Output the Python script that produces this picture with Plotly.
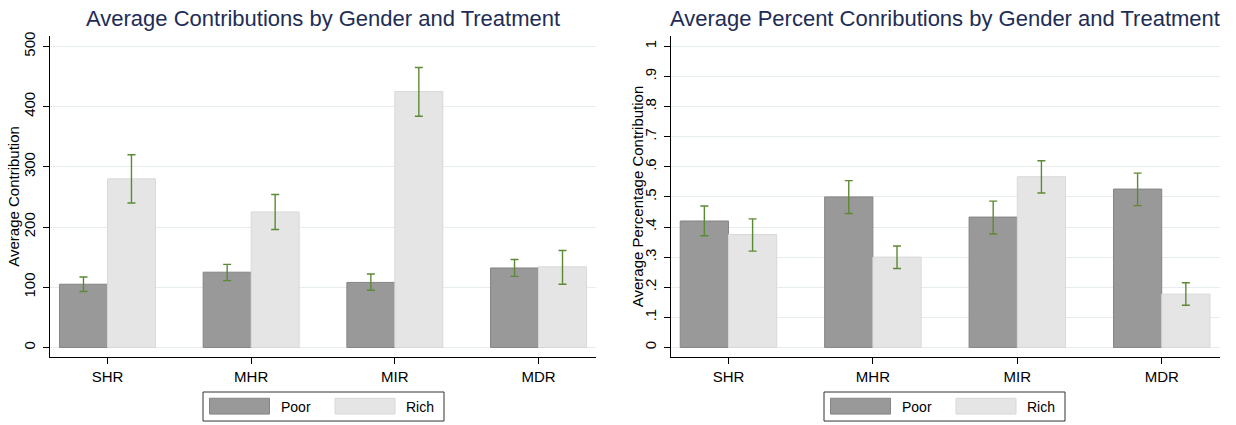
import plotly.graph_objects as go

# ---------------- data ----------------
categories = ["SHR", "MHR", "MIR", "MDR"]
groups = ["Poor", "Rich"]

contrib_poor = [105, 125, 108, 132]
contrib_poor_lo = [93, 111, 95, 118]
contrib_poor_hi = [117, 138, 122, 146]
contrib_rich = [280, 225, 425, 134]
contrib_rich_lo = [240, 196, 384, 105]
contrib_rich_hi = [320, 254, 465, 161]

pct_poor = [0.420, 0.500, 0.433, 0.526]
pct_poor_lo = [0.371, 0.445, 0.377, 0.471]
pct_poor_hi = [0.470, 0.554, 0.486, 0.579]
pct_rich = [0.375, 0.300, 0.567, 0.177]
pct_rich_lo = [0.320, 0.262, 0.513, 0.140]
pct_rich_hi = [0.427, 0.337, 0.620, 0.215]

left_ticks = [0, 100, 200, 300, 400, 500]
left_ticktext = ["0", "100", "200", "300", "400", "500"]
right_ticks = [0, 0.1, 0.2, 0.3, 0.4, 0.5, 0.6, 0.7, 0.8, 0.9, 1.0]
right_ticktext = ["0", ".1", ".2", ".3", ".4", ".5", ".6", ".7", ".8", ".9", "1"]

# ---------------- styles ----------------
W, H = 1236, 425
FONT = "Liberation Sans, Arial, Helvetica, sans-serif"
POOR_FILL, POOR_EDGE = "#999999", "#858585"
RICH_FILL, RICH_EDGE = "#e5e5e5", "#d8d8d8"
ERR_COLOR = "#5b8a34"
GRID = "#e6eded"
TITLE_COLOR = "#1e2d55"


def err(vals, lo, hi):
    return dict(type="data", symmetric=False,
                array=[h - v for v, h in zip(vals, hi)],
                arrayminus=[v - l for v, l in zip(vals, lo)],
                color=ERR_COLOR, thickness=1.4, width=4)


fig = go.Figure()
series = [
    ("x", "y", contrib_poor, contrib_poor_lo, contrib_poor_hi, "Poor", POOR_FILL, POOR_EDGE),
    ("x", "y", contrib_rich, contrib_rich_lo, contrib_rich_hi, "Rich", RICH_FILL, RICH_EDGE),
    ("x2", "y2", pct_poor, pct_poor_lo, pct_poor_hi, "Poor", POOR_FILL, POOR_EDGE),
    ("x2", "y2", pct_rich, pct_rich_lo, pct_rich_hi, "Rich", RICH_FILL, RICH_EDGE),
]
for xa, ya, vals, lo, hi, name, fill, edge in series:
    fig.add_trace(go.Bar(
        x=categories, y=vals, name=name, xaxis=xa, yaxis=ya,
        marker=dict(color=fill, line=dict(color=edge, width=1)),
        error_y=err(vals, lo, hi), showlegend=False, offsetgroup=name,
    ))

px = lambda v: v / W
py = lambda v: 1 - v / H

ydom = [py(356.7), py(32.5)]
xdom1 = [px(50), px(596)]
xdom2 = [px(670.7), px(1219.5)]

common_x = dict(type="category", range=[-0.4, 3.4], showline=True, linecolor="black",
                linewidth=1, ticks="outside", ticklen=6, tickcolor="black",
                tickfont=dict(size=15, color="black", family=FONT), showgrid=False,
                zeroline=False, fixedrange=True)
common_y = dict(showline=True, linecolor="black", linewidth=1, ticks="outside",
                ticklen=6, tickcolor="black", tickangle=-90,
                tickfont=dict(size=15, color="black", family=FONT),
                showgrid=True, gridcolor=GRID, gridwidth=1, zeroline=False,
                ticklabelstandoff=2, fixedrange=True)

fig.update_layout(
    width=W, height=H,
    margin=dict(l=0, r=0, t=0, b=0),
    paper_bgcolor="white", plot_bgcolor="white",
    barmode="group", bargap=0.332, bargroupgap=0,
    font=dict(family=FONT, color="black"),
    xaxis=dict(domain=xdom1, anchor="y", **common_x),
    yaxis=dict(domain=ydom, anchor="x", range=[-16.4, 516.9],
               tickvals=left_ticks, ticktext=left_ticktext, **common_y),
    xaxis2=dict(domain=xdom2, anchor="y2", **common_x),
    yaxis2=dict(domain=ydom, anchor="x2", range=[-0.0329, 1.0338],
                tickvals=right_ticks, ticktext=right_ticktext, **common_y),
    showlegend=False,
)

# titles
fig.add_annotation(text="Average Contributions by Gender and Treatment",
                   x=px(323), y=py(14.5), xref="paper", yref="paper", showarrow=False,
                   font=dict(size=22, color=TITLE_COLOR, family=FONT),
                   xanchor="center", yanchor="middle")
fig.add_annotation(text="Average Percent Conributions by Gender and Treatment",
                   x=px(945), y=py(14.5), xref="paper", yref="paper", showarrow=False,
                   font=dict(size=22, color=TITLE_COLOR, family=FONT),
                   xanchor="center", yanchor="middle")
# y axis titles
fig.add_annotation(text="Average Contribution", x=px(14), y=(ydom[0] + ydom[1]) / 2,
                   xref="paper", yref="paper", showarrow=False, textangle=-90,
                   font=dict(size=15, color="black", family=FONT),
                   xanchor="center", yanchor="middle")
fig.add_annotation(text="Average Percentage Contribution", x=px(637.5),
                   y=(ydom[0] + ydom[1]) / 2,
                   xref="paper", yref="paper", showarrow=False, textangle=-90,
                   font=dict(size=15, color="black", family=FONT),
                   xanchor="center", yanchor="middle")

# legends (drawn as boxes under each panel)
for x0 in (203, 824):
    fig.add_shape(type="rect", xref="paper", yref="paper",
                  x0=px(x0), x1=px(x0 + 241), y0=py(421), y1=py(391.7),
                  line=dict(color="#333333", width=1), fillcolor="white")
    for k, (name, fill, edge) in enumerate([("Poor", POOR_FILL, POOR_EDGE),
                                            ("Rich", RICH_FILL, RICH_EDGE)]):
        sx = x0 + 6.5 + k * 125.5
        fig.add_shape(type="rect", xref="paper", yref="paper",
                      x0=px(sx), x1=px(sx + 60), y0=py(414), y1=py(398),
                      line=dict(color=edge, width=1), fillcolor=fill)
        fig.add_annotation(text=name, x=px(sx + 69), y=py(406.5), xref="paper",
                           yref="paper", showarrow=False, xanchor="left",
                           yanchor="middle",
                           font=dict(size=14, color="black", family=FONT))

fig.write_html("out.html",
               config={"displayModeBar": False, "staticPlot": True},
               post_script="document.body.style.margin='0';"
                           "document.body.style.overflow='hidden';")
